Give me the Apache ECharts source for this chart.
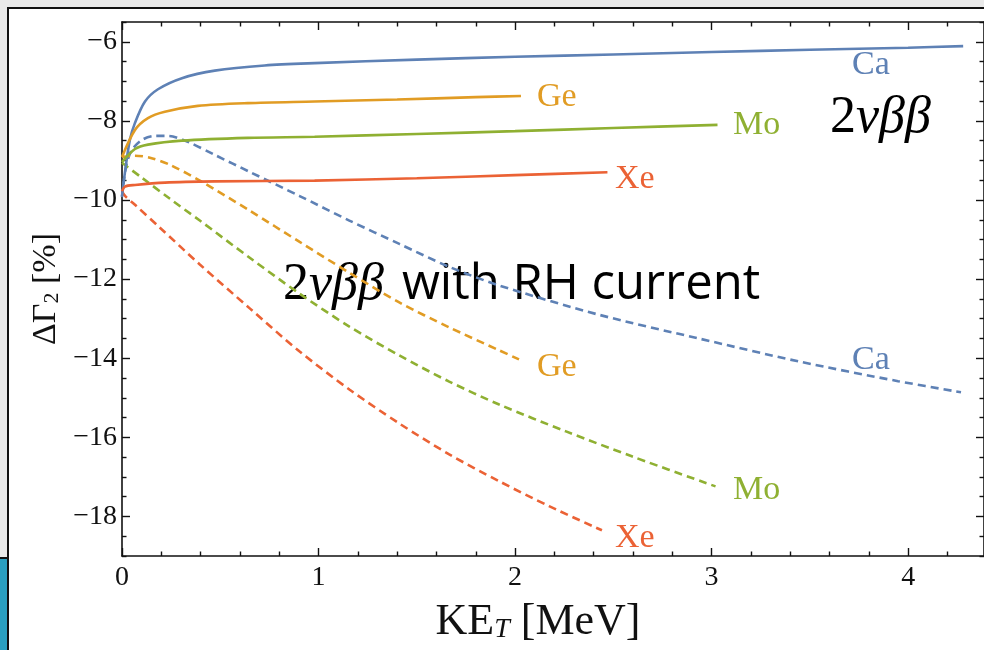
<!DOCTYPE html>
<html>
<head>
<meta charset="utf-8">
<script src="https://cdn.jsdelivr.net/npm/echarts@6/dist/echarts.min.js"></script>
<style>
  html, body { margin: 0; padding: 0; background: #e9e9e9; }
  #frame { position: absolute; left: 7px; top: 7px; width: 990px; height: 660px; background: #fff; border-left: 2px solid #111; border-top: 2px solid #111; }
  #strip { position: absolute; left: 0; top: 557px; width: 7px; height: 93px; background: #2a9fc0; border-top: 2px solid #111; }
  #main { position: absolute; left: 0; top: 0; width: 984px; height: 650px; }
</style>
</head>
<body>
<div id="frame"></div>
<div id="strip"></div>
<div id="main"></div>
<script>
// axis ranges / ticks
const xMin = 0, xMax = 4.386;
const yMin = -19, yMax = -5.5;
const xMajor = [0, 1, 2, 3, 4];
const xMinor = [0.2, 0.4, 0.6, 0.8, 1.2, 1.4, 1.6, 1.8, 2.2, 2.4, 2.6, 2.8, 3.2, 3.4, 3.6, 3.8, 4.2];
const yMajor = [-18, -16, -14, -12, -10, -8, -6];
const yMinor = [-19, -18.5, -17.5, -17, -16.5, -15.5, -15, -14.5, -13.5, -13, -12.5, -11.5, -11, -10.5, -9.5, -9, -8.5, -7.5, -7, -6.5, -5.5];

// solid curves (2vbb)
const caX = [0, 0.015, 0.04, 0.066, 0.117, 0.183, 0.305, 0.472, 0.726, 0.98, 1.5, 2.0, 2.5, 3.0, 3.5, 4.0, 4.28];
const caY = [-9.9, -9.3, -8.48, -8.05, -7.51, -7.2, -6.92, -6.73, -6.6, -6.54, -6.45, -6.38, -6.32, -6.26, -6.2, -6.15, -6.11];
const geX = [0, 0.066, 0.132, 0.218, 0.386, 0.64, 0.98, 1.4, 1.8, 2.03];
const geY = [-8.91, -8.23, -7.93, -7.77, -7.62, -7.55, -7.51, -7.46, -7.4, -7.37];
const moX = [0, 0.066, 0.132, 0.305, 0.64, 0.98, 1.5, 2.0, 2.5, 3.03];
const moY = [-9.04, -8.71, -8.6, -8.5, -8.43, -8.4, -8.33, -8.26, -8.18, -8.1];
const xeX = [0, 0.015, 0.066, 0.218, 0.472, 0.98, 1.5, 2.0, 2.47];
const xeY = [-9.78, -9.66, -9.62, -9.56, -9.53, -9.51, -9.45, -9.37, -9.3];

// dashed curves (with RH current)
const caRX = [0, 0.01, 0.025, 0.051, 0.102, 0.168, 0.234, 0.335, 0.472, 0.65, 0.904, 1.157, 1.411, 1.665, 1.919, 2.426, 2.934, 3.442, 3.949, 4.269];
const caRY = [-9.93, -9.49, -9.06, -8.73, -8.48, -8.38, -8.38, -8.53, -8.86, -9.29, -9.9, -10.52, -11.11, -11.69, -12.16, -12.9, -13.5, -14.08, -14.58, -14.86];
const geRX = [0, 0.066, 0.142, 0.244, 0.396, 0.65, 0.904, 1.157, 1.411, 1.665, 1.919, 2.02];
const geRY = [-8.91, -8.88, -8.93, -9.11, -9.51, -10.27, -11.06, -11.84, -12.59, -13.22, -13.8, -14.03];
const moRX = [0, 0.102, 0.244, 0.396, 0.65, 0.904, 1.157, 1.411, 1.665, 1.919, 2.259, 2.594, 3.02];
const moRY = [-9.06, -9.44, -9.97, -10.52, -11.46, -12.37, -13.2, -13.93, -14.59, -15.17, -15.85, -16.48, -17.24];
const xeRX = [0, 0.02, 0.066, 0.193, 0.396, 0.65, 0.904, 1.157, 1.411, 1.665, 1.919, 2.173, 2.442];
const xeRY = [-9.79, -9.92, -10.12, -10.7, -11.63, -12.74, -13.83, -14.79, -15.65, -16.43, -17.11, -17.74, -18.35];

const colors = { Ca: '#5E81B5', Ge: '#E19C24', Mo: '#8FB032', Xe: '#EB6235' };
const serif = 'Liberation Serif';

function pairs(xs, ys) { return xs.map((x, i) => [x, ys[i]]); }

function line(name, xs, ys, dashed) {
  return {
    name: name,
    type: 'line',
    showSymbol: false,
    smooth: 0.3,
    silent: true,
    animation: false,
    lineStyle: { color: colors[name], width: 2.6, type: dashed ? [8, 5] : 'solid' },
    data: pairs(xs, ys)
  };
}

function axis(kind, pos, ticks, len, showLine, labels) {
  const a = {
    type: 'value',
    position: pos,
    min: kind === 'x' ? xMin : yMin,
    max: kind === 'x' ? xMax : yMax,
    splitLine: { show: false },
    axisLine: { show: showLine, onZero: false, lineStyle: { color: '#111', width: 1.6 } },
    axisTick: { show: true, inside: true, length: len, customValues: ticks, lineStyle: { color: '#111', width: 1.4 } },
    axisLabel: { show: false }
  };
  if (labels) {
    a.axisLabel = {
      show: true,
      customValues: labels,
      fontFamily: serif,
      fontSize: 28,
      color: '#111',
      margin: kind === 'x' ? 8 : 5,
      formatter: v => String(v).replace('-', '\u2212')
    };
  }
  return a;
}

function tag(text, color, x, y) {
  return {
    type: 'text', x: x, y: y,
    style: { text: text, fill: color, font: '34px "Liberation Serif"', align: 'left', verticalAlign: 'middle' }
  };
}

const chart = echarts.init(document.getElementById('main'), null, { renderer: 'canvas' });

const option = {
  backgroundColor: 'transparent',
  grid: { left: 122, top: 22, right: -2, bottom: 94, containLabel: false },
  xAxis: [
    axis('x', 'bottom', xMajor, 8, true, xMajor),
    axis('x', 'bottom', xMinor, 4.5, false, null),
    axis('x', 'top', xMajor, 8, true, null),
    axis('x', 'top', xMinor, 4.5, false, null)
  ],
  yAxis: [
    axis('y', 'left', yMajor, 8, true, yMajor),
    axis('y', 'left', yMinor, 4.5, false, null),
    axis('y', 'right', yMajor, 8, true, null),
    axis('y', 'right', yMinor, 4.5, false, null)
  ],
  series: [
    line('Ca', caRX, caRY, true),
    line('Ge', geRX, geRY, true),
    line('Mo', moRX, moRY, true),
    line('Xe', xeRX, xeRY, true),
    line('Ca', caX, caY, false),
    line('Ge', geX, geY, false),
    line('Mo', moX, moY, false),
    line('Xe', xeX, xeY, false)
  ],
  graphic: [
    // curve labels
    tag('Ca', colors.Ca, 852, 65),
    tag('Ge', colors.Ge, 537, 97),
    tag('Mo', colors.Mo, 733, 125),
    tag('Xe', colors.Xe, 615, 179),
    tag('Ca', colors.Ca, 852, 360),
    tag('Ge', colors.Ge, 537, 367),
    tag('Mo', colors.Mo, 733, 490),
    tag('Xe', colors.Xe, 615, 538),
    // process labels
    {
      type: 'text', x: 830, y: 118,
      style: {
        text: '{n|2}{g|\u03BD\u03B2\u03B2}',
        verticalAlign: 'middle',
        rich: {
          n: { font: '52px "Liberation Serif"', fill: '#000' },
          g: { font: 'italic 52px "Liberation Serif"', fill: '#000' }
        }
      }
    },
    {
      type: 'text', x: 283, y: 285,
      style: {
        text: '{n|2}{g|\u03BD\u03B2\u03B2}{t|with RH current}',
        verticalAlign: 'middle',
        rich: {
          n: { font: '52px "Liberation Serif"', fill: '#000' },
          g: { font: 'italic 52px "Liberation Serif"', fill: '#000' },
          t: { font: '49px "Open Sans"', fill: '#000', padding: [0, 0, 0, 18] }
        }
      }
    },
    // axis titles
    {
      type: 'text', x: 46, y: 289, rotation: Math.PI / 2,
      style: {
        text: '\u0394\u0393{s|2} [%]',
        font: '34px "Liberation Serif"', fill: '#111',
        align: 'center', verticalAlign: 'middle',
        rich: { s: { font: '22px "Liberation Serif"', fill: '#111', padding: [12, 0, 0, 0] } }
      }
    },
    {
      type: 'text', x: 538, y: 622,
      style: {
        text: 'KE{s|T} [MeV]',
        font: '44px "Liberation Serif"', fill: '#111',
        align: 'center', verticalAlign: 'middle',
        rich: { s: { font: 'italic 28px "Liberation Serif"', fill: '#111', padding: [16, 0, 0, 0] } }
      }
    }
  ]
};

chart.setOption(option);
</script>
</body>
</html>
